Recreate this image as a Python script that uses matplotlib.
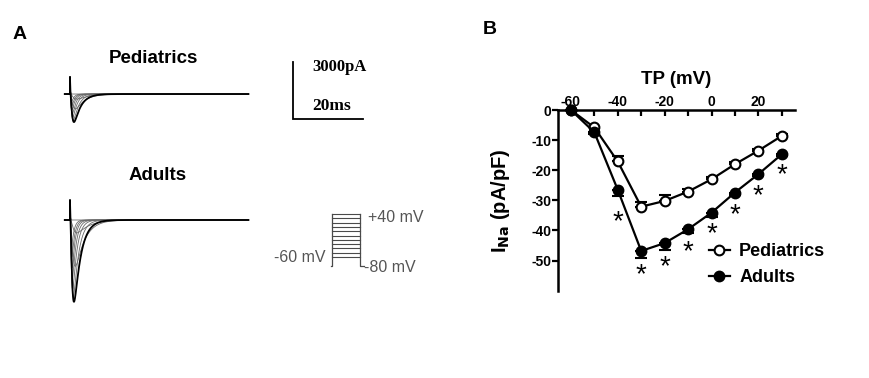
import numpy as np
import matplotlib
matplotlib.use("Agg")
from matplotlib import pyplot as plt

plt.rcParams["font.family"] = ["Liberation Sans", "DejaVu Sans"]
plt.rcParams["axes.unicode_minus"] = False

# panel B: I-V relation
test_mv = [-60, -50, -40, -30, -20, -10, 0, 10, 20, 30]
peds_ina = [0.0, -5.8, -17.1, -32.1, -30.2, -27.1, -23.0, -18.0, -13.5, -8.6]
peds_sem = [0.0, 0.3, 1.9, 1.4, 2.0, 1.0, 0.6, 0.6, 0.6, 0.5]
adults_ina = [0.0, -7.4, -26.5, -46.8, -44.2, -39.6, -34.1, -27.4, -21.3, -14.7]
adults_sem = [0.0, 0.5, 1.9, 2.4, 2.2, 1.3, 1.5, 0.8, 0.7, 0.7]
star_mv = [-40, -30, -20, -10, 0, 10, 20, 30]
star_y = [-35.4, -53.0, -50.3, -45.4, -39.6, -33.0, -26.8, -19.9]

# panel A: example current families (kinetics per test potential)
tau_m = [0.80, 0.70, 0.55, 0.42, 0.34, 0.28, 0.24, 0.21, 0.19, 0.17]
tau_h = [4.0, 3.4, 2.6, 1.9, 1.5, 1.2, 1.0, 0.85, 0.75, 0.65]
cm_peds = 46.0      # pF
cm_adults = 92.0    # pF
cap_peds = 900.0    # pA, capacitive transient
cap_adults = 1050.0
peds_offset = 6630.0  # vertical offset of pediatric family, pA
protocol_mv = [-60, -50, -40, -30, -20, -10, 0, 10, 20, 30, 40]
holding_mv = -80
step_ms = 8.0

fig = plt.figure(figsize=(8.69, 3.78), dpi=100)

# ---------------- panel A ----------------
ax_a = fig.add_axes([0, 0, 440 / 869, 1])
ax_a.set_xlim(-20, 105.7)
ax_a.set_ylim(-8316, 11579)
ax_a.axis("off")

t = np.arange(-1.5, 51, 0.02)


def draw_family(ax, ina, cm, cap, y0):
    for amp, tm, th in zip(ina, tau_m, tau_h):
        tt = np.clip(t, 0, None)
        shape = (1 - np.exp(-tt / tm)) ** 3 * np.exp(-tt / th)
        shape = shape / shape.max()
        cur = amp * cm * shape + cap * np.exp(-tt / 0.08) * (t >= 0)
        deepest = amp == min(ina)
        ax.plot(t, y0 + cur, color="black" if deepest else "#6a6a6a",
                lw=1.3 if deepest else 0.6, zorder=3 if deepest else 2)


draw_family(ax_a, peds_ina, cm_peds, cap_peds, peds_offset)
draw_family(ax_a, adults_ina, cm_adults, cap_adults, 0.0)

ax_a.text(23.7, 8526, "Pediatrics", fontsize=13.5, fontweight="bold", ha="center", va="center")
ax_a.text(25.1, 2316, "Adults", fontsize=13.5, fontweight="bold", ha="center", va="center")
ax_a.text(-14.3, 9750, "A", fontsize=14, fontweight="bold", ha="center", va="center")

# scale bar
sb_t, sb_y = 63.7, 5316.0
ax_a.plot([sb_t, sb_t, sb_t + 20], [sb_y + 3000, sb_y, sb_y], color="black", lw=1.3,
          solid_joinstyle="miter")
ax_a.text(sb_t + 5.4, 8060, "3000pA", family="Liberation Serif", fontweight="bold",
          fontsize=12, ha="left", va="center")
ax_a.text(sb_t + 5.4, 6000, "20ms", family="Liberation Serif", fontweight="bold",
          fontsize=12.5, ha="left", va="center")

# voltage protocol inset
ax_p = fig.add_axes([320 / 869, (378 - 280) / 378, 60 / 869, 80 / 378])
ax_p.set_xlim(-3.43, 13.71)
ax_p.set_ylim(-113.5, 72.6)
ax_p.axis("off")
pc = "#4a4a4a"
for v in protocol_mv:
    ax_p.plot([0, step_ms], [v, v], color=pc, lw=0.8)
ax_p.plot([-0.4, 0, 0], [holding_mv, holding_mv, max(protocol_mv)], color=pc, lw=0.9)
ax_p.plot([step_ms, step_ms, step_ms + 1.2], [max(protocol_mv), holding_mv, holding_mv],
          color=pc, lw=0.9)
fig.text(368 / 869, 1 - 217 / 378, "+40 mV", fontsize=11.5, color="#555555", ha="left", va="center")
fig.text(364 / 869, 1 - 268 / 378, "-80 mV", fontsize=11.5, color="#555555", ha="left", va="center")
fig.text(326 / 869, 1 - 257 / 378, "-60 mV", fontsize=11.5, color="#555555", ha="right", va="center")

# ---------------- panel B ----------------
ax = fig.add_axes([558 / 869, (378 - 290.7) / 378, 236.7 / 869, 180.7 / 378])
ax.set_xlim(-65.5, 35.5)
ax.set_ylim(-60, 0)
for s in ("bottom", "right"):
    ax.spines[s].set_visible(False)
ax.spines["top"].set_linewidth(1.8)
ax.spines["left"].set_linewidth(1.8)
ax.xaxis.tick_top()
ax.set_xticks([-60, -40, -20, 0, 20])
ax.set_xticks([-50, -30, -10, 10, 30], minor=True)
ax.set_yticks([0, -10, -20, -30, -40, -50])
ax.tick_params(axis="x", which="both", direction="in", length=4, width=1.6, pad=1,
               labelsize=10)
ax.tick_params(axis="y", direction="out", length=4, width=1.6, pad=1, labelsize=10)
for lab in ax.get_xticklabels() + ax.get_yticklabels():
    lab.set_fontweight("bold")

ax.errorbar(test_mv, peds_ina, yerr=[np.zeros(len(peds_sem)), peds_sem], fmt="-o",
            color="black", mfc="white", mec="black", mew=1.5, ms=7, lw=1.6,
            capsize=4, elinewidth=1.6, capthick=1.6, clip_on=False, label="Pediatrics",
            zorder=3)
ax.errorbar(test_mv, adults_ina, yerr=[adults_sem, np.zeros(len(adults_sem))], fmt="-o",
            color="black", mfc="black", mec="black", mew=1.5, ms=7, lw=1.6,
            capsize=4, elinewidth=1.6, capthick=1.6, clip_on=False, label="Adults",
            zorder=3)
for x, y in zip(star_mv, star_y):
    ax.text(x, y - 1.8, "*", fontsize=20, ha="center", va="center")

ax.set_xlabel("TP (mV)", fontsize=13.5, fontweight="bold", labelpad=8)
ax.xaxis.set_label_position("top")
ax.set_ylabel("I$_\\mathbf{Na}$ (pA/pF)", fontsize=14.5, fontweight="bold", labelpad=14)

handles, labels = ax.get_legend_handles_labels()
handles = [h[0] for h in handles]
ax.legend(handles, labels, loc="lower right", bbox_to_anchor=(1.16, -0.015), frameon=False,
          prop={"weight": "bold", "size": 13}, handlelength=1.2, handletextpad=0.5,
          labelspacing=0.5, borderaxespad=0)

fig.text(490 / 869, 1 - 29 / 378, "B", fontsize=14, fontweight="bold", ha="center", va="center")

fig.savefig("out.png", dpi=100)
